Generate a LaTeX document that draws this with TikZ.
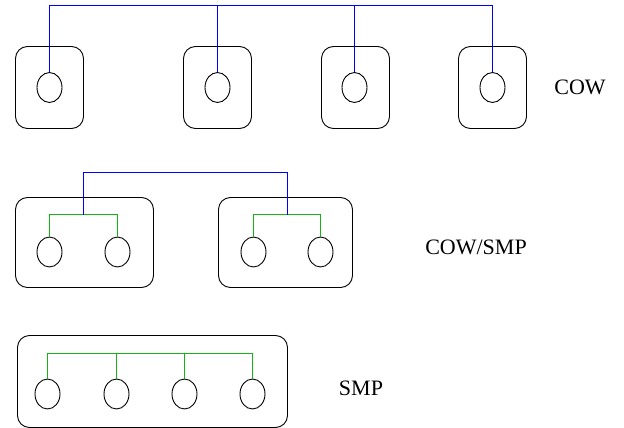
\documentclass[tikz,border=0pt]{standalone}
\usepackage{fontspec}
\setmainfont{Liberation Serif}
\usetikzlibrary{shapes.geometric}
\definecolor{busblue}{RGB}{0,0,255}
\definecolor{busgreen}{RGB}{20,180,20}
\begin{document}
\begin{tikzpicture}[x=1pt,y=-1pt,
  cpu/.style={draw,ellipse,line width=0.9pt,minimum width=25pt,minimum height=30pt,inner sep=0pt},
  nodebox/.style={draw,rounded corners=12pt,line width=0.9pt,inner sep=0pt},
  bluebus/.style={draw=busblue,line width=1.3pt},
  greenbus/.style={draw=busgreen,line width=1.3pt},
  lbl/.style={font=\fontsize{22}{24}\selectfont,inner sep=0pt}]
\useasboundingbox (0,0) rectangle (624,428);
% ---------- COW ----------
\node[nodebox,minimum width=68pt,minimum height=82pt] (b1) at (49.5,87.5) {};
\node[nodebox,minimum width=68pt,minimum height=82pt] (b2) at (217.5,87.5) {};
\node[nodebox,minimum width=68pt,minimum height=82pt] (b3) at (355.5,87.5) {};
\node[nodebox,minimum width=68pt,minimum height=82pt] (b4) at (492.5,87.5) {};
\node[cpu] (e1) at (49.5,87.5) {};
\node[cpu] (e2) at (217.5,87.5) {};
\node[cpu] (e3) at (354.5,87.5) {};
\node[cpu] (e4) at (492.5,87.5) {};
\coordinate (bt) at (0,5.5);
\draw[bluebus] (e1.north) -- (e1.north |- bt) -- (e4.north |- bt) -- (e4.north);
\draw[bluebus] (e2.north) -- (e2.north |- bt);
\draw[bluebus] (e3.north) -- (e3.north |- bt);
\node[lbl] (tcow) at (580,87) {COW};
% ---------- COW/SMP ----------
\node[nodebox,minimum width=138pt,minimum height=90pt] (bA) at (84.5,242.5) {};
\node[nodebox,minimum width=134pt,minimum height=90pt] (bB) at (285.5,242.5) {};
\node[cpu] (m1) at (49.5,252) {};
\node[cpu] (m2) at (117.5,252) {};
\node[cpu] (m3) at (253.5,252) {};
\node[cpu] (m4) at (320.5,252) {};
\coordinate (gA) at (0,214.5);
\coordinate (jA) at (83.5,214.5);
\coordinate (jB) at (287.5,214.5);
\coordinate (bm) at (0,172.5);
\draw[greenbus] (m1.north) -- (m1.north |- gA) -- (m2.north |- gA) -- (m2.north);
\draw[greenbus] (m3.north) -- (m3.north |- gA) -- (m4.north |- gA) -- (m4.north);
\draw[bluebus] (jA) -- (jA |- bm) -- (jB |- bm) -- (jB);
\node[lbl] (tcs) at (476,247) {COW/SMP};
% ---------- SMP ----------
\node[nodebox,minimum width=270pt,minimum height=92pt] (bS) at (152.5,381.5) {};
\node[cpu] (s1) at (47.5,394) {};
\node[cpu] (s2) at (116.5,394) {};
\node[cpu] (s3) at (184.5,394) {};
\node[cpu] (s4) at (252.5,394) {};
\coordinate (gS) at (0,353.5);
\draw[greenbus] (s1.north) -- (s1.north |- gS) -- (s4.north |- gS) -- (s4.north);
\draw[greenbus] (s2.north) -- (s2.north |- gS);
\draw[greenbus] (s3.north) -- (s3.north |- gS);
\node[lbl] (tsmp) at (361,388) {SMP};
\end{tikzpicture}
\end{document}
